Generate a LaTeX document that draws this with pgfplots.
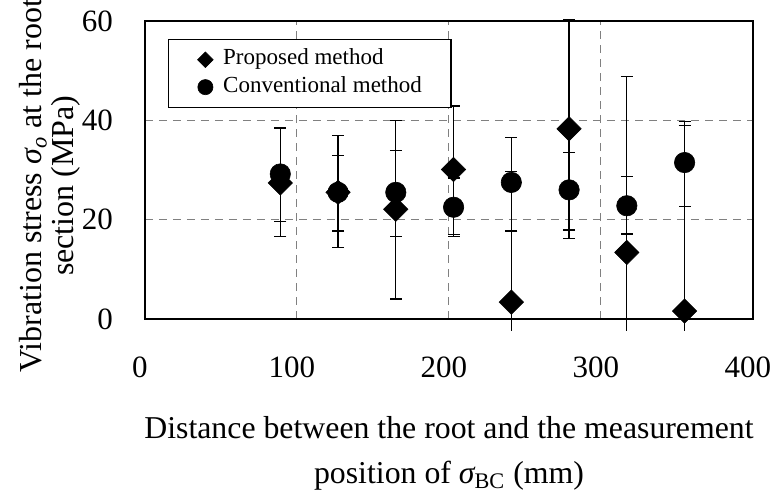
\documentclass[border=0pt]{standalone}
\usepackage{fontspec}
\setmainfont{Liberation Serif}
\usepackage{pgfplots}
\pgfplotsset{compat=1.18}

\begin{document}
\begin{tikzpicture}
\begin{axis}[
  scale only axis, width=304pt, height=149pt,
  xmin=0, xmax=400, ymin=0, ymax=60,
  xtick={0,100,200,300,400}, ytick={0,20,40,60},
  clip=false,
  axis line style={black, line width=0.65pt},
  major tick length=0pt,
  grid=major,
  major grid style={black!50, dash pattern=on 4pt off 3pt, line width=0.5pt},
  /pgf/number format/assume math mode=true,
  ticklabel style={font=\fontsize{15.5}{15.5}\selectfont},
  xticklabel style={yshift=-15.3pt, xshift=-2.6pt},
  yticklabel style={xshift=-12.5pt},
  xlabel={Distance between the root and the measurement\\position of {\itshape σ}\textsubscript{BC} (mm)},
  ylabel={Vibration stress {\itshape σ\textsubscript{o}} at the root\\section (MPa)},
  every axis x label/.style={at={(axis description cs:0.5,-0.3255)}, anchor=north, align=center, inner sep=0pt, font=\fontsize{15.9}{22.5}\selectfont},
  every axis y label/.style={at={(axis description cs:-0.106,0.447)}, anchor=south, rotate=90, align=center, inner sep=0pt, font=\fontsize{16}{16}\selectfont},
  legend style={at={(axis description cs:0.0378,0.94)}, anchor=north west, draw=black, line width=0.65pt, fill=white,
    font=\fontsize{11.5}{13.6}\selectfont, inner xsep=14.5pt, inner ysep=5pt, row sep=3.5pt,
    nodes={inner sep=0pt, text height=7.7pt, text depth=2.5pt},
    /tikz/every odd column/.append style={column sep=5pt}},
  legend cell align=left,
  legend image code/.code={\draw[#1] plot coordinates {(0pt,0pt)};},
]
\addlegendimage{only marks, mark=square*, mark options={rotate=45, fill=black, draw=black, line width=0.3pt}, mark size=2.75pt}
\addlegendentry{Proposed method}
\addlegendimage{only marks, mark=*, mark options={fill=black, draw=black, line width=0.3pt}, mark size=3.8pt}
\addlegendentry{Conventional method}

% Proposed method (diamonds), error bars fully visible
\addplot[forget plot, only marks, black, mark=square*, mark size=4.3pt,
  mark options={rotate=45, fill=black, draw=black, solid, line width=0.3pt},
  error bars/.cd, y dir=both, y explicit,
  error bar style={black, solid, line width=0.65pt},
  error mark options={rotate=90, black, mark size=3pt, line width=0.65pt}]
coordinates {
(89,27.4) += (0,10.9) -= (0,10.8)
(127,25.5) += (0,11.5) -= (0,11.1)
(165,22.1) += (0,17.8) -= (0,18.1)
(203,30.1) += (0,12.8) -= (0,13.1)
(279,38.3) += (0,21.9) -= (0,22.1)
};
% Proposed method, points whose lower bars are cut below the axis: upper part with cap
\addplot[forget plot, only marks, black, mark=square*, mark size=4.3pt,
  mark options={rotate=45, fill=black, draw=black, solid, line width=0.3pt},
  error bars/.cd, y dir=plus, y explicit,
  error bar style={black, solid, line width=0.65pt},
  error mark options={rotate=90, black, mark size=3pt, line width=0.65pt}]
coordinates {
(241,3.4) += (0,26.3)
(317,13.4) += (0,35.4)
(355,1.6) += (0,37.3)
};
% lower part, cut, no cap
\addplot[forget plot, only marks, mark=none, black,
  error bars/.cd, y dir=minus, y explicit, error mark=none,
  error bar style={black, solid, line width=0.65pt}]
coordinates {
(241,3.4) -= (0,5.8)
(317,13.4) -= (0,15.8)
(355,1.6) -= (0,4.0)
};
% Conventional method (circles)
\addplot[forget plot, only marks, black, mark=*, mark size=5.1pt,
  mark options={fill=black, draw=black, solid, line width=0.3pt},
  error bars/.cd, y dir=both, y explicit,
  error bar style={black, solid, line width=0.65pt},
  error mark options={rotate=90, black, mark size=3pt, line width=0.65pt}]
coordinates {
(89,29.2) += (0,9.3) -= (0,9.6)
(127,25.5) += (0,7.4) -= (0,7.8)
(165,25.5) += (0,8.4) -= (0,8.9)
(203,22.5) += (0,5.9) -= (0,5.9)
(241,27.5) += (0,9.1) -= (0,9.8)
(279,26.0) += (0,7.5) -= (0,8.1)
(317,22.8) += (0,5.9) -= (0,5.7)
(355,31.5) += (0,8.2) -= (0,8.9)
};
\coordinate (SW) at (rel axis cs:0,0);
\coordinate (NE) at (rel axis cs:1,1);
\end{axis}
\pgfresetboundingbox
\path[use as bounding box] ([shift={(-72.5pt,-86pt)}]SW) rectangle ([shift={(9.5pt,10.5pt)}]NE);
\end{tikzpicture}
\end{document}
